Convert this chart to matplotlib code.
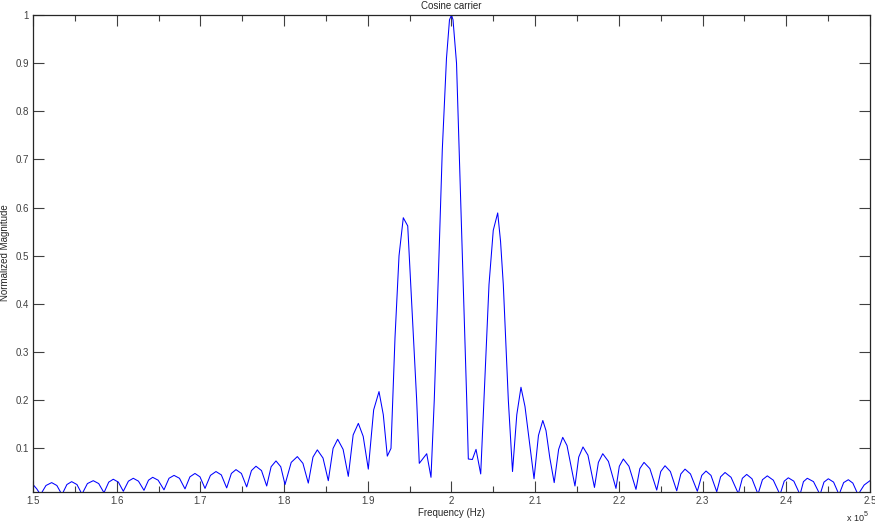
import matplotlib
matplotlib.use("Agg")
import matplotlib.pyplot as plt
from matplotlib.ticker import FixedLocator, FuncFormatter

plt.rcParams['font.family'] = ['Liberation Sans', 'DejaVu Sans']

# Frequency (kHz) of each vertex and its normalized magnitude
freq_khz = [
    150.0, 150.45, 150.9, 151.55, 152.23, 152.85, 153.46, 154.05, 154.62, 155.25,
    155.85, 156.5, 157.20, 157.85, 158.48, 159.05, 159.59, 160.2, 160.79, 161.4,
    161.98, 162.6, 163.26, 163.8, 164.30, 164.95, 165.65, 166.25, 166.85, 167.5,
    168.16, 168.75, 169.35, 169.95, 170.55, 171.2, 171.86, 172.5, 173.14, 173.7,
    174.25, 174.9, 175.53, 176.1, 176.64, 177.3, 177.92, 178.45, 179.03, 179.6,
    180.11, 180.85, 181.58, 182.25, 182.89, 183.45, 183.97, 184.65, 185.28, 185.85,
    186.40, 187.05, 187.67, 188.25, 188.87, 189.45, 190.06, 190.7, 191.34, 191.85,
    192.33, 192.77, 193.25, 193.73, 194.24, 194.77, 195.13, 195.84, 196.15, 197.04,
    197.55, 197.94, 198.45, 198.90, 199.40, 199.76, 200.0, 200.18, 200.60, 200.93,
    201.37, 201.82, 202.01, 202.49, 202.93, 203.49, 203.88, 204.48, 204.99, 205.52,
    205.86, 206.19, 206.79, 207.29, 207.8, 208.30, 208.78, 209.86, 210.39, 210.91,
    211.29, 211.75, 212.27, 212.8, 213.29, 213.8, 214.75, 215.2, 215.71, 216.3,
    217.08, 217.55, 218.07, 218.75, 219.65, 220.05, 220.53, 221.2, 222.04, 222.5,
    223.0, 223.7, 224.52, 225.0, 225.51, 226.15, 226.91, 227.4, 227.90, 228.55,
    229.37, 229.9, 230.41, 231.0, 231.69, 232.15, 232.68, 233.4, 234.27, 234.75,
    235.27, 235.9, 236.62, 237.15, 237.73, 238.45, 239.25, 239.75, 240.24, 240.9,
    241.64, 242.05, 242.51, 243.25, 244.03, 244.5, 245.02, 245.65, 246.30, 246.85,
    247.41, 247.95, 248.57, 249.3, 250.0,
]
magnitude = [
    0.025, 0.016, 0.004, 0.023, 0.029, 0.023, 0.004, 0.025, 0.031, 0.025,
    0.005, 0.027, 0.033, 0.027, 0.008, 0.030, 0.036, 0.030, 0.011, 0.032,
    0.038, 0.032, 0.013, 0.034, 0.040, 0.034, 0.014, 0.038, 0.044, 0.038,
    0.016, 0.041, 0.048, 0.041, 0.017, 0.044, 0.052, 0.045, 0.018, 0.048,
    0.056, 0.048, 0.020, 0.054, 0.063, 0.054, 0.022, 0.062, 0.074, 0.062,
    0.025, 0.071, 0.083, 0.069, 0.028, 0.082, 0.097, 0.080, 0.033, 0.100,
    0.119, 0.098, 0.042, 0.128, 0.152, 0.125, 0.057, 0.180, 0.218, 0.170,
    0.084, 0.100, 0.330, 0.500, 0.579, 0.562, 0.440, 0.200, 0.069, 0.089,
    0.040, 0.200, 0.470, 0.720, 0.910, 0.990, 1.000, 0.990, 0.900, 0.710,
    0.450, 0.200, 0.078, 0.077, 0.098, 0.047, 0.200, 0.440, 0.553, 0.589,
    0.530, 0.440, 0.200, 0.052, 0.170, 0.227, 0.187, 0.037, 0.127, 0.158,
    0.137, 0.080, 0.029, 0.098, 0.123, 0.106, 0.022, 0.082, 0.103, 0.086,
    0.019, 0.071, 0.089, 0.073, 0.017, 0.063, 0.078, 0.063, 0.015, 0.058,
    0.071, 0.058, 0.0135, 0.052, 0.064, 0.052, 0.012, 0.047, 0.057, 0.047,
    0.011, 0.044, 0.053, 0.044, 0.010, 0.041, 0.050, 0.040, 0.006, 0.038,
    0.046, 0.037, 0.005, 0.035, 0.043, 0.034, 0.004, 0.032, 0.039, 0.032,
    0.004, 0.031, 0.038, 0.031, 0.004, 0.030, 0.037, 0.030, 0.004, 0.029,
    0.035, 0.028, 0.004, 0.024, 0.033,
]

title_text = "Cosine carrier"
xlabel_text = "Frequency (Hz)"
ylabel_text = "Normalized Magnitude"
xticks = [1.5, 1.6, 1.7, 1.8, 1.9, 2.0, 2.1, 2.2, 2.3, 2.4, 2.5]
yticks = [0.1, 0.2, 0.3, 0.4, 0.5, 0.6, 0.7, 0.8, 0.9, 1.0]

W, H = 875, 522
fig = plt.figure(figsize=(W / 100, H / 100), dpi=100)
ax = fig.add_axes([33 / W, 1 - 492 / H, (870 - 33) / W, (492 - 15) / H])

freq_hz = [f * 1000 for f in freq_khz]
ax.plot(freq_hz, magnitude, color='#0000ff', lw=0.75)

ax.set_xlim(1.5e5, 2.5e5)
ax.set_ylim(0.0095, 1.0)

ax.xaxis.set_major_locator(FixedLocator([t * 1e5 for t in xticks]))
ax.xaxis.set_minor_locator(FixedLocator([t * 1e5 + 5e3 for t in xticks[:-1]]))
ax.xaxis.set_major_formatter(FuncFormatter(lambda v, p: f"{v / 1e5:g}"))
ax.yaxis.set_major_locator(FixedLocator(yticks))
ax.yaxis.set_major_formatter(FuncFormatter(lambda v, p: f"{v:g}"))

tick_col = '#404040'
ax.tick_params(axis='both', which='major', direction='in', length=8, width=0.8,
               colors=tick_col, labelsize=7, top=True, right=True, pad=3)
ax.tick_params(axis='x', which='minor', direction='in', length=4, width=0.8,
               colors=tick_col, top=True)
for s in ax.spines.values():
    s.set_color('#262626')
    s.set_linewidth(0.9)

ax.set_title(title_text, fontsize=7, color='#262626', pad=4)
ax.set_xlabel(xlabel_text, fontsize=7, color='#262626', labelpad=1)

fig.text(5 / W, 1 - 253 / H, ylabel_text, fontsize=7, color='#262626',
         rotation=90, ha='center', va='center')

fig.text(847 / W, 1 - 521 / H, "x 10", fontsize=6.5, color='#262626', ha='left', va='baseline')
fig.text(864 / W, 1 - 516 / H, "5", fontsize=5, color='#262626', ha='left', va='baseline')

fig.savefig("out.png", dpi=100, facecolor='white')
